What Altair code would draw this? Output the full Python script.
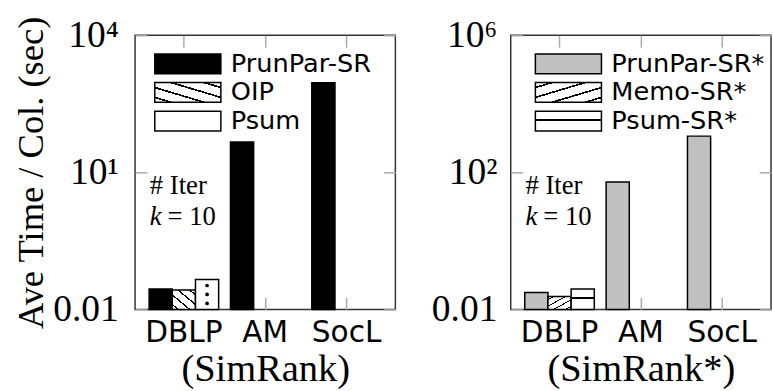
import altair as alt
import pandas as pd

# ---------------- data ----------------
categories = ["DBLP", "AM", "SocL"]

simrank_series = ["PrunPar-SR", "OIP", "Psum"]
simrank_prunpar = [0.028, 46, 910]
simrank_oip = [0.0265, None, None]
simrank_psum = [0.045, None, None]

simrankstar_series = ["PrunPar-SR*", "Memo-SR*", "Psum-SR*"]
simrankstar_prunpar = [0.031, 52, 1140]
simrankstar_memo = [0.0237, None, None]
simrankstar_psum = [0.0394, None, None]

left_ticks = [0.01, 10, 10000]
left_tick_labels = ["0.01", "10¹", "10⁴"]
right_ticks = [0.01, 100, 1000000]
right_tick_labels = ["0.01", "10²", "10⁶"]

y_title = "Ave Time / Col. (sec)"
left_title = "(SimRank)"
right_title = "(SimRank*)"
note_line1 = ["# Iter"]
note_k = ["k"]
note_eq = ["= 10"]

# ---------------- styles ----------------
TICK = "#aaaaaa"
SERIF = "Liberation Serif"
SANS = "DejaVu Sans"


def stripes(x1, y1, x2, y2, centers, half, fg="black", bg="white"):
    stops = [f"{{offset:0,color:'{bg}'}}"]
    for c in centers:
        a, b = max(c - half, 0), min(c + half, 1)
        stops += [
            f"{{offset:{a:.3f},color:'{bg}'}}",
            f"{{offset:{a:.3f},color:'{fg}'}}",
            f"{{offset:{b:.3f},color:'{fg}'}}",
            f"{{offset:{b:.3f},color:'{bg}'}}",
        ]
    stops.append(f"{{offset:1,color:'{bg}'}}")
    return {"expr": f"{{gradient:'linear',x1:{x1},y1:{y1},x2:{x2},y2:{y2},stops:[{','.join(stops)}]}}"}


left_fills = [
    "black",
    stripes(0, 1, 1, 0, [0.125, 0.375, 0.625, 0.875], 0.022),
    "white",
]
right_fills = [
    "#c0c0c0",
    stripes(0, 0, 1, 1, [0.125, 0.375, 0.625, 0.875], 0.022),
    stripes(0, 0, 0, 1, [0.45], 0.037),
]


def panel(series, vals_by_series, ymax, ticks, tick_labels, fills, title,
          show_ytitle, label_pad, legend_x, dotted_series=None):
    rows = []
    for s, vals in zip(series, vals_by_series):
        for c, v in zip(categories, vals):
            if v is not None:
                rows.append({"category": c, "series": s, "value": v})
    df = pd.DataFrame(rows)
    label_expr = (
        "[" + ",".join(f"'{l}'" for l in tick_labels) + "][indexof(["
        + ",".join(str(t) for t in ticks) + "], datum.value)]"
    )
    yaxis_kwargs = dict(
        orient="left", offset=-12, tickSize=12, tickColor=TICK, tickWidth=1.5,
        domain=False, grid=False, values=ticks, labelExpr=label_expr,
        labelFont=SERIF, labelFontSize=38, labelColor="black", labelPadding=label_pad,
        labelOverlap=False,
    )
    if show_ytitle:
        yaxis_kwargs.update(title=y_title, titleFont=SERIF, titleFontSize=37,
                            titleFontWeight="normal", titleColor="black", titlePadding=2)
    else:
        yaxis_kwargs.update(title=None)

    bars = alt.Chart(df).mark_bar(stroke="black", strokeWidth=1.5).encode(
        x=alt.X(
            "category:N", sort=categories,
            scale=alt.Scale(domain=categories, paddingInner=0, paddingOuter=0.1),
            axis=alt.Axis(
                orient="bottom", offset=-12, tickSize=12, tickColor=TICK, tickWidth=1.5,
                domain=False, grid=False, labelFont=SANS, labelFontSize=30, labelPadding=9,
                labelAngle=0, labelColor="black", title=title, titleFont=SERIF,
                titleFontSize=39, titleFontWeight="normal", titlePadding=2, titleColor="black",
            ),
        ),
        xOffset=alt.XOffset(
            "series:N", sort=series,
            scale=alt.Scale(domain=series, paddingInner=0, paddingOuter=0.255),
        ),
        y=alt.Y(
            "value:Q",
            scale=alt.Scale(type="log", domain=[0.01, ymax], nice=False),
            axis=alt.Axis(**yaxis_kwargs),
        ),
        y2=alt.datum(0.01),
        fill=alt.Fill(
            "series:N", sort=series,
            scale=alt.Scale(domain=series, range=fills),
            legend=alt.Legend(
                orient="none", legendX=legend_x, legendY=16, title=None,
                symbolType="M-1,-1H5.7V1H-1Z", symbolSize=400,
                symbolStrokeColor="black", symbolStrokeWidth=1.5,
                labelFont=SANS, labelFontSize=26, labelColor="black", labelOffset=54,
                rowPadding=3, padding=0,
            ),
        ),
    )

    frame_axes = alt.Chart(df).mark_bar(opacity=0).encode(
        x=alt.X(
            "category:N", sort=categories,
            axis=alt.Axis(orient="top", offset=-12, tickSize=12, tickColor=TICK, tickWidth=1.5,
                          domain=False, grid=False, labels=False, title=None),
        ),
        xOffset=alt.XOffset("series:N", sort=series),
        y=alt.Y(
            "value:Q",
            axis=alt.Axis(orient="right", offset=-12, tickSize=12, tickColor=TICK, tickWidth=1.5,
                          domain=False, grid=False, labels=False, values=ticks, title=None),
        ),
        y2=alt.datum(0.01),
    )

    layers = [bars, frame_axes]

    if dotted_series is not None:
        # dot texture inside the dotted bars, placed at fractions of each bar's (log) height
        base = alt.Chart(df).transform_filter(alt.datum.series == dotted_series)
        enc = dict(
            x=alt.X("category:N", sort=categories, axis=None),
            xOffset=alt.XOffset("series:N", sort=series),
            y=alt.Y("dy:Q", axis=None),
        )
        d1 = (base.transform_calculate(f="[0.2, 0.8]")
              .transform_flatten(["f"])
              .transform_calculate(dy="0.01*pow(datum.value/0.01, datum.f)")
              .mark_point(filled=True, color="black", size=14, opacity=1, dx=-3)
              .encode(**enc))
        d2 = (base.transform_calculate(dy="0.01*pow(datum.value/0.01, 0.5)")
              .mark_point(filled=True, color="black", size=14, opacity=1, dx=6)
              .encode(**enc))
        layers += [d1, d2]

    n1 = alt.Chart(pd.DataFrame({"t": note_line1})).mark_text(
        align="left", baseline="middle", font=SERIF, fontSize=27, color="black"
    ).encode(x=alt.value(15), y=alt.value(153), text="t:N")
    n2 = alt.Chart(pd.DataFrame({"t": note_k})).mark_text(
        align="left", baseline="middle", font=SERIF, fontSize=27, fontStyle="italic", color="black"
    ).encode(x=alt.value(15), y=alt.value(184), text="t:N")
    n3 = alt.Chart(pd.DataFrame({"t": note_eq})).mark_text(
        align="left", baseline="middle", font=SERIF, fontSize=27, color="black"
    ).encode(x=alt.value(33), y=alt.value(184), text="t:N")
    layers += [n1, n2, n3]

    return alt.layer(*layers).properties(width=264, height=278)


left = panel(simrank_series, [simrank_prunpar, simrank_oip, simrank_psum], 10000,
             left_ticks, left_tick_labels, left_fills, left_title, True, 17, 17,
             dotted_series="Psum")
right = panel(simrankstar_series, [simrankstar_prunpar, simrankstar_memo, simrankstar_psum], 1000000,
              right_ticks, right_tick_labels, right_fills, right_title, False, 14, 22)

chart = (
    alt.hconcat(left, right, spacing=33)
    .resolve_scale(x="independent", y="independent", fill="independent", xOffset="independent")
    .resolve_legend(fill="independent")
    .configure_view(stroke="#333333", strokeWidth=1.5)
    .properties(padding={"left": 12, "top": 12, "right": 0, "bottom": 0}, background="white")
)

chart.save("out.html", embed_options={"renderer": "svg", "actions": False})
